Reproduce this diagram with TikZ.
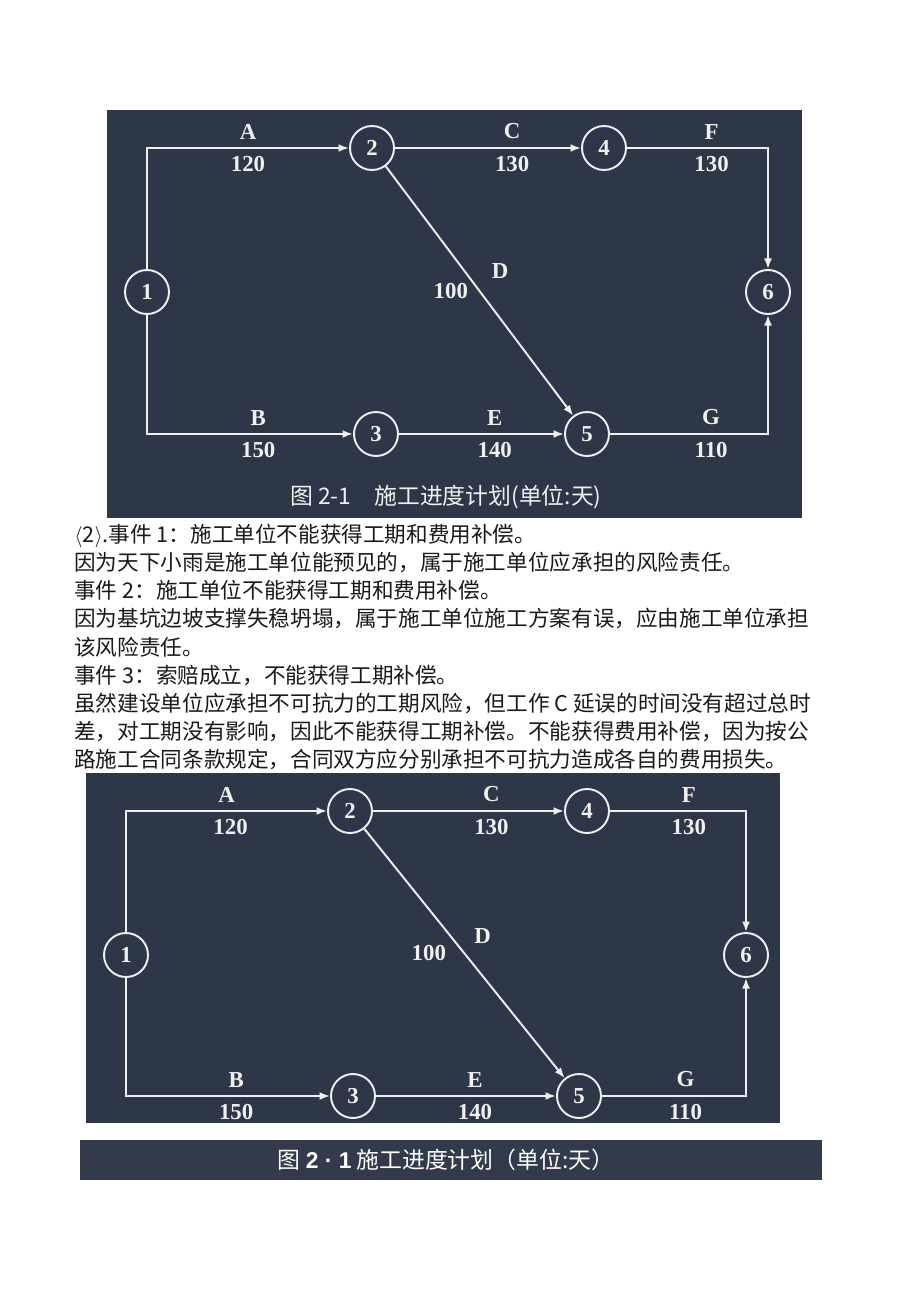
\documentclass[tikz,border=0pt]{standalone}
\usepackage{fontspec}
\usepackage{tikz}
\usetikzlibrary{arrows.meta, positioning}
\newfontfamily\cjk{Noto Sans CJK SC}
\newfontfamily\serifnum{Liberation Serif}
\newfontfamily\capsans{Liberation Sans}
\definecolor{panel-dark}{RGB}{46,55,72}
\definecolor{bar-dark}{RGB}{50,58,76}
\definecolor{chalk}{RGB}{240,240,240}

\begin{document}
\begin{tikzpicture}[
    x=0.02cm, y=-0.02cm,
    event/.style={circle, draw=chalk, line width=1.1pt, minimum size=0.88cm, inner sep=0pt, text=chalk, font=\serifnum\bfseries\fontsize{13}{13}\selectfont},
    work/.style={draw=chalk, line width=1.1pt, -{Latex[length=6pt,width=4.5pt]}},
    tag/.style={text=chalk, inner sep=1pt, font=\serifnum\bfseries\fontsize{13}{13}\selectfont},
    bodytext/.style={align=left, inner sep=0pt, text=black!90, font=\cjk\fontsize{12.3}{16}\selectfont}
]
\useasboundingbox[fill=white] (0,0) rectangle (920,1301);

% Upper plan (scanned figure)
\fill[panel-dark] (107,110) rectangle (802,518);
\node[event] (t1) at (147,292) {1};
\node[event] (t2) at (372,148) {2};
\node[event] (t3) at (376,434) {3};
\node[event] (t4) at (604,148) {4};
\node[event] (t5) at (587,434) {5};
\node[event] (t6) at (768,292) {6};

\draw[work] (t1) |- (t2) node[tag, pos=0.75, above=3.5pt] (tA) {A} node[tag, pos=0.75, below=3pt] (tA-d) {120};
\draw[work] (t1) |- (t3) node[tag, pos=0.77, above=3.5pt] (tB) {B} node[tag, pos=0.77, below=3pt] (tB-d) {150};
\draw[work] (t2) -- (t4) node[tag, pos=0.63, above=3.5pt] (tC) {C} node[tag, pos=0.63, below=3pt] (tC-d) {130};
\draw[work] (t2) -- (t5) node[tag, pos=0.42, right=14pt] (tD) {D} node[tag, pos=0.5, left=5pt] (tD-d) {100};
\draw[work] (t3) -- (t5) node[tag, pos=0.58, above=3.5pt] (tE) {E} node[tag, pos=0.58, below=3pt] (tE-d) {140};
\draw[work] (t4) -| (t6) node[tag, pos=0.30, above=3.5pt] (tF) {F} node[tag, pos=0.30, below=3pt] (tF-d) {130};
\draw[work] (t5) -| (t6) node[tag, pos=0.32, above=3.5pt] (tG) {G} node[tag, pos=0.32, below=3pt] (tG-d) {110};

\node[text=chalk!90, font=\cjk\fontsize{13}{13}\selectfont] (t-cap) at (446,497) {图 2-1\quad 施工进度计划(单位:天)};

% Answer text
\node[bodytext, anchor=north west] (answer) at (74,524) {%
$\langle$2$\rangle$.事件 1：施工单位不能获得工期和费用补偿。\\
因为天下小雨是施工单位能预见的，属于施工单位应承担的风险责任。\\
事件 2：施工单位不能获得工期和费用补偿。\\
因为基坑边坡支撑失稳坍塌，属于施工单位施工方案有误，应由施工单位承担\\
该风险责任。\\
事件 3：索赔成立，不能获得工期补偿。\\
虽然建设单位应承担不可抗力的工期风险，但工作 C 延误的时间没有超过总时\\
差，对工期没有影响，因此不能获得工期补偿。不能获得费用补偿，因为按公\\
路施工合同条款规定，合同双方应分别承担不可抗力造成各自的费用损失。};

% Lower plan (redrawn figure)
\fill[panel-dark] (86,773) rectangle (780,1123);
\node[event] (b1) at (126,955) {1};
\node[event] (b2) at (350,811) {2};
\node[event] (b3) at (353,1096) {3};
\node[event] (b4) at (587,811) {4};
\node[event] (b5) at (579,1096) {5};
\node[event] (b6) at (746,955) {6};

\draw[work] (b1) |- (b2) node[tag, pos=0.75, above=3.5pt] (bA) {A} node[tag, pos=0.76, below=3pt] (bA-d) {120};
\draw[work] (b1) |- (b3) node[tag, pos=0.77, above=3.5pt] (bB) {B} node[tag, pos=0.77, below=3pt] (bB-d) {150};
\draw[work] (b2) -- (b4) node[tag, pos=0.62, above=3.5pt] (bC) {C} node[tag, pos=0.62, below=3pt] (bC-d) {130};
\draw[work] (b2) -- (b5) node[tag, pos=0.43, right=12pt] (bD) {D} node[tag, pos=0.5, left=9pt] (bD-d) {100};
\draw[work] (b3) -- (b5) node[tag, pos=0.55, above=3.5pt] (bE) {E} node[tag, pos=0.55, below=3pt] (bE-d) {140};
\draw[work] (b4) -| (b6) node[tag, pos=0.29, above=3.5pt] (bF) {F} node[tag, pos=0.29, below=3pt] (bF-d) {130};
\draw[work] (b5) -| (b6) node[tag, pos=0.29, above=3.5pt] (bG) {G} node[tag, pos=0.29, below=3pt] (bG-d) {110};

% Caption bar
\fill[bar-dark] (80,1140) rectangle (822,1180);
\node[text=white, font=\cjk\fontsize{13}{13}\selectfont] (b-cap) at (446,1160) {图 {\capsans\bfseries 2 · 1} 施工进度计划（单位:天）};

\end{tikzpicture}
\end{document}
